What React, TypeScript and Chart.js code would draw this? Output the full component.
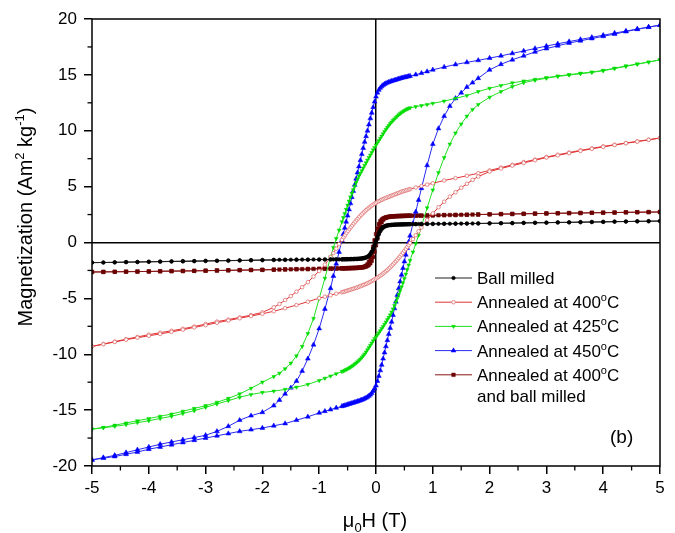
import React, { useEffect, useRef } from 'react';
import { Chart, registerables } from 'chart.js';
import { drawPoint } from 'chart.js/helpers';

Chart.register(...registerables);

const FONT = '"Liberation Sans", Arial, sans-serif';

// Field sweep grids (T): descending sweep +5 -> -5, ascending sweep -5 -> +5
const H_DESC = [5, 4.8, 4.6, 4.4, 4.2, 4, 3.8, 3.6, 3.4, 3.2, 3, 2.8, 2.6, 2.4, 2.2, 2, 1.8, 1.6, 1.4, 1.2, 1, 0.9, 0.8, 0.7,
  0.6, 0.575, 0.55, 0.525, 0.5, 0.475, 0.45, 0.425, 0.4, 0.375, 0.35, 0.325, 0.3, 0.275, 0.25, 0.225, 0.2, 0.175, 0.15, 0.125, 0.1, 0.075, 0.05, 0.025, 0,
  -0.025, -0.05, -0.075, -0.1, -0.125, -0.15, -0.175, -0.2, -0.225, -0.25, -0.275, -0.3, -0.325, -0.35, -0.375, -0.4, -0.425, -0.45, -0.475, -0.5, -0.525, -0.55, -0.575, -0.6,
  -0.65, -0.7, -0.75, -0.8, -0.9, -1, -1.1, -1.2, -1.3, -1.4, -1.5, -1.6, -1.7,
  -1.8, -2, -2.2, -2.4, -2.6, -2.8, -3, -3.2, -3.4, -3.6, -3.8, -4, -4.2, -4.4, -4.6, -4.8, -5];

const H_ASC = [-5, -4.8, -4.6, -4.4, -4.2, -4, -3.8, -3.6, -3.4, -3.2, -3, -2.8, -2.6, -2.4, -2.2, -2, -1.8, -1.6, -1.4, -1.2, -1, -0.9, -0.8, -0.7,
  -0.6, -0.575, -0.55, -0.525, -0.5, -0.475, -0.45, -0.425, -0.4, -0.375, -0.35, -0.325, -0.3, -0.275, -0.25, -0.225, -0.2, -0.175, -0.15, -0.125, -0.1, -0.075, -0.05, -0.025, 0,
  0.025, 0.05, 0.075, 0.1, 0.125, 0.15, 0.175, 0.2, 0.225, 0.25, 0.275, 0.3, 0.325, 0.35, 0.375, 0.4, 0.425, 0.45, 0.475, 0.5, 0.525, 0.55, 0.575, 0.6,
  0.65, 0.7, 0.75, 0.8, 0.9, 1, 1.1, 1.2, 1.3, 1.4, 1.5, 1.6, 1.7,
  1.8, 2, 2.2, 2.4, 2.6, 2.8, 3, 3.2, 3.4, 3.6, 3.8, 4, 4.2, 4.4, 4.6, 4.8, 5];

// Ball milled
const BM_DESC = [1.92, 1.91, 1.9, 1.88, 1.87, 1.85, 1.84, 1.83, 1.81, 1.8, 1.78, 1.77, 1.76, 1.74, 1.73, 1.72, 1.71, 1.7, 1.69, 1.68, 1.67, 1.66, 1.66, 1.65,
  1.64, 1.64, 1.63, 1.63, 1.63, 1.62, 1.62, 1.62, 1.61, 1.61, 1.6, 1.6, 1.59, 1.58, 1.57, 1.56, 1.54, 1.51, 1.46, 1.38, 1.26, 1.08, 0.84, 0.53, 0.18,
  -0.18, -0.51, -0.8, -1.02, -1.18, -1.28, -1.35, -1.39, -1.42, -1.44, -1.45, -1.46, -1.47, -1.47, -1.48, -1.48, -1.49, -1.49, -1.49, -1.5, -1.5, -1.5, -1.5, -1.51,
  -1.51, -1.51, -1.51, -1.51, -1.52, -1.52, -1.52, -1.53, -1.53, -1.53, -1.54, -1.54, -1.55,
  -1.55, -1.56, -1.58, -1.6, -1.61, -1.63, -1.64, -1.66, -1.67, -1.69, -1.7, -1.72, -1.74, -1.75, -1.77, -1.79, -1.8];
const BM_ASC = [-1.8, -1.79, -1.78, -1.76, -1.75, -1.73, -1.72, -1.7, -1.69, -1.67, -1.66, -1.64, -1.63, -1.61, -1.6, -1.59, -1.57, -1.56, -1.55, -1.54, -1.53, -1.52, -1.52, -1.51,
  -1.51, -1.5, -1.5, -1.5, -1.49, -1.49, -1.49, -1.48, -1.48, -1.47, -1.47, -1.46, -1.45, -1.44, -1.42, -1.4, -1.37, -1.33, -1.27, -1.18, -1.05, -0.86, -0.62, -0.32, 0.02,
  0.38, 0.72, 0.99, 1.19, 1.32, 1.41, 1.47, 1.51, 1.54, 1.56, 1.57, 1.58, 1.59, 1.6, 1.6, 1.61, 1.61, 1.62, 1.62, 1.62, 1.63, 1.63, 1.63, 1.64,
  1.64, 1.64, 1.65, 1.65, 1.66, 1.66, 1.67, 1.67, 1.68, 1.68, 1.69, 1.69, 1.7,
  1.7, 1.71, 1.72, 1.73, 1.75, 1.76, 1.77, 1.79, 1.8, 1.81, 1.83, 1.84, 1.86, 1.87, 1.89, 1.9, 1.92];

// Annealed at 400 C
const A400_DESC = [9.35, 9.2, 9.05, 8.9, 8.75, 8.6, 8.42, 8.25, 8.05, 7.85, 7.65, 7.42, 7.2, 6.95, 6.7, 6.45, 6.2, 5.97, 5.76, 5.55, 5.3, 5.18, 5.05, 4.92,
  4.78, 4.74, 4.7, 4.66, 4.62, 4.58, 4.54, 4.49, 4.44, 4.39, 4.34, 4.29, 4.24, 4.19, 4.14, 4.09, 4.04, 3.99, 3.94, 3.88, 3.82, 3.76, 3.7, 3.63, 3.55,
  3.47, 3.39, 3.3, 3.2, 3.1, 3.0, 2.89, 2.77, 2.65, 2.52, 2.39, 2.25, 2.1, 1.95, 1.8, 1.64, 1.48, 1.32, 1.15, 0.98, 0.8, 0.62, 0.43, 0.24,
  -0.15, -0.55, -0.95, -1.3, -1.98, -2.55, -3.05, -3.55, -4.0, -4.4, -4.8, -5.15, -5.5,
  -5.8, -6.25, -6.5, -6.7, -6.9, -7.08, -7.3, -7.52, -7.72, -7.9, -8.07, -8.25, -8.45, -8.65, -8.87, -9.08, -9.3];
const A400_ASC = [-9.3, -9.1, -8.9, -8.7, -8.52, -8.35, -8.18, -8.0, -7.8, -7.6, -7.4, -7.18, -6.98, -6.78, -6.58, -6.38, -6.15, -5.88, -5.6, -5.3, -4.98, -4.85, -4.72, -4.58,
  -4.45, -4.42, -4.38, -4.34, -4.3, -4.26, -4.22, -4.18, -4.14, -4.1, -4.06, -4.01, -3.96, -3.91, -3.86, -3.81, -3.76, -3.71, -3.65, -3.59, -3.52, -3.45, -3.38, -3.3, -3.22,
  -3.14, -3.06, -2.97, -2.88, -2.78, -2.68, -2.57, -2.46, -2.34, -2.22, -2.09, -1.96, -1.82, -1.68, -1.54, -1.39, -1.24, -1.08, -0.92, -0.75, -0.58, -0.41, -0.23, -0.05,
  0.3, 0.65, 1.0, 1.35, 2.0, 2.6, 3.15, 3.65, 4.1, 4.5, 4.9, 5.25, 5.6,
  5.9, 6.35, 6.62, 6.88, 7.12, 7.36, 7.6, 7.8, 8.0, 8.2, 8.38, 8.56, 8.72, 8.88, 9.03, 9.18, 9.35];

// Annealed at 425 C
const A425_DESC = [16.35, 16.15, 15.98, 15.8, 15.6, 15.4, 15.25, 15.15, 15.02, 14.9, 14.75, 14.6, 14.45, 14.28, 14.05, 13.8, 13.5, 13.15, 12.9, 12.65, 12.45, 12.35, 12.25, 12.15,
  12.05, 12.0, 11.95, 11.87, 11.8, 11.72, 11.63, 11.53, 11.42, 11.3, 11.18, 11.05, 10.92, 10.78, 10.63, 10.47, 10.3, 10.12, 9.93, 9.73, 9.52, 9.32, 9.12, 8.92, 8.72,
  8.5, 8.28, 8.05, 7.82, 7.6, 7.37, 7.13, 6.9, 6.66, 6.42, 6.18, 5.95, 5.67, 5.35, 5.03, 4.71, 4.39, 4.07, 3.7, 3.33, 2.96, 2.59, 2.22, 1.85,
  1.1, 0.35, -0.45, -1.3, -3.2, -5.0, -6.8, -8.15, -9.3, -10.15, -10.8, -11.3, -11.7,
  -12.0, -12.5, -13.05, -13.55, -13.95, -14.3, -14.6, -14.85, -15.1, -15.35, -15.55, -15.75, -15.95, -16.15, -16.35, -16.55, -16.7];
const A425_ASC = [-16.7, -16.58, -16.45, -16.3, -16.12, -15.95, -15.75, -15.55, -15.3, -15.05, -14.75, -14.45, -14.15, -13.85, -13.6, -13.42, -13.3, -13.15, -12.95, -12.7, -12.35, -12.15, -11.95, -11.75,
  -11.55, -11.5, -11.44, -11.38, -11.31, -11.24, -11.16, -11.08, -10.99, -10.89, -10.79, -10.68, -10.56, -10.43, -10.29, -10.14, -9.98, -9.8, -9.6, -9.4, -9.2, -9.0, -8.8, -8.6, -8.45,
  -8.27, -8.09, -7.9, -7.71, -7.52, -7.32, -7.12, -6.91, -6.7, -6.48, -6.22, -5.95, -5.65, -5.33, -5.0, -4.66, -4.32, -3.97, -3.6, -3.22, -2.83, -2.43, -2.02, -1.6,
  -0.85, -0.1, 0.65, 1.45, 3.1, 4.7, 6.25, 7.6, 8.8, 9.8, 10.6, 11.3, 11.9,
  12.35, 13.0, 13.5, 13.95, 14.3, 14.52, 14.7, 14.86, 14.98, 15.1, 15.22, 15.37, 15.56, 15.76, 15.95, 16.14, 16.35];

// Annealed at 450 C
const A450_DESC = [19.45, 19.28, 19.1, 18.92, 18.74, 18.55, 18.36, 18.17, 17.98, 17.78, 17.58, 17.36, 17.14, 16.92, 16.7, 16.5, 16.3, 16.12, 15.93, 15.7, 15.45, 15.3, 15.15, 15.02,
  14.9, 14.87, 14.84, 14.81, 14.78, 14.75, 14.72, 14.68, 14.64, 14.6, 14.56, 14.52, 14.48, 14.44, 14.4, 14.35, 14.3, 14.24, 14.17, 14.08, 13.97, 13.83, 13.65, 13.4, 13.05,
  12.6, 12.1, 11.6, 11.1, 10.55, 10.0, 9.5, 9.0, 8.45, 7.9, 7.35, 6.8, 6.25, 5.7, 5.15, 4.6, 4.05, 3.5, 2.95, 2.4, 1.85, 1.3, 0.75, 0.2,
  -0.85, -1.9, -3.0, -4.1, -5.95, -7.7, -9.15, -10.4, -11.5, -12.4, -13.0, -13.55, -14.1,
  -14.6, -15.2, -15.5, -15.9, -16.45, -16.9, -17.25, -17.45, -17.65, -17.85, -18.05, -18.3, -18.55, -18.8, -19.05, -19.25, -19.45];
const A450_ASC = [-19.45, -19.3, -19.15, -18.95, -18.75, -18.5, -18.3, -18.1, -17.9, -17.7, -17.5, -17.3, -17.1, -16.9, -16.75, -16.6, -16.4, -16.2, -15.9, -15.6, -15.25, -15.1, -14.95, -14.8,
  -14.66, -14.62, -14.58, -14.54, -14.5, -14.46, -14.42, -14.38, -14.34, -14.3, -14.26, -14.22, -14.18, -14.13, -14.08, -14.03, -13.97, -13.9, -13.82, -13.73, -13.62, -13.48, -13.3, -13.08, -12.8,
  -12.4, -11.95, -11.45, -10.95, -10.4, -9.85, -9.3, -8.75, -8.2, -7.65, -7.1, -6.5, -5.9, -5.3, -4.7, -4.1, -3.5, -2.9, -2.3, -1.7, -1.1, -0.5, 0.05, 0.6,
  1.7, 2.75, 3.8, 4.85, 6.9, 8.8, 10.2, 11.3, 12.2, 12.9, 13.4, 13.9, 14.3,
  14.7, 15.45, 15.95, 16.35, 16.7, 17.05, 17.35, 17.6, 17.85, 18.05, 18.25, 18.45, 18.65, 18.87, 19.08, 19.27, 19.45];

// Annealed at 400 C and ball milled
const ABM_DESC = [2.73, 2.72, 2.71, 2.7, 2.68, 2.67, 2.66, 2.64, 2.63, 2.62, 2.6, 2.59, 2.57, 2.56, 2.54, 2.52, 2.5, 2.48, 2.46, 2.45, 2.43, 2.42, 2.41, 2.41,
  2.4, 2.4, 2.39, 2.39, 2.38, 2.38, 2.37, 2.37, 2.36, 2.36, 2.35, 2.34, 2.33, 2.32, 2.31, 2.29, 2.27, 2.24, 2.2, 2.14, 2.05, 1.9, 1.65, 1.25, 0.75,
  0.2, -0.38, -0.92, -1.38, -1.72, -1.95, -2.08, -2.15, -2.19, -2.22, -2.24, -2.25, -2.26, -2.27, -2.27, -2.28, -2.28, -2.29, -2.29, -2.3, -2.3, -2.3, -2.31, -2.31,
  -2.32, -2.32, -2.33, -2.33, -2.34, -2.35, -2.36, -2.37, -2.38, -2.39, -2.4, -2.41, -2.42,
  -2.43, -2.44, -2.46, -2.47, -2.49, -2.5, -2.52, -2.53, -2.55, -2.56, -2.57, -2.59, -2.6, -2.61, -2.62, -2.63, -2.64];
const ABM_ASC = [-2.64, -2.63, -2.62, -2.61, -2.6, -2.59, -2.58, -2.56, -2.55, -2.54, -2.52, -2.51, -2.49, -2.48, -2.46, -2.45, -2.43, -2.41, -2.39, -2.38, -2.36, -2.35, -2.34, -2.33,
  -2.32, -2.32, -2.31, -2.31, -2.3, -2.3, -2.3, -2.29, -2.29, -2.28, -2.28, -2.27, -2.26, -2.25, -2.24, -2.22, -2.19, -2.15, -2.09, -2.0, -1.86, -1.64, -1.3, -0.82, -0.25,
  0.35, 0.92, 1.42, 1.8, 2.03, 2.16, 2.23, 2.27, 2.3, 2.32, 2.33, 2.34, 2.35, 2.36, 2.36, 2.37, 2.37, 2.38, 2.38, 2.39, 2.39, 2.39, 2.4, 2.4,
  2.4, 2.41, 2.41, 2.41, 2.42, 2.43, 2.44, 2.45, 2.46, 2.47, 2.48, 2.49, 2.5,
  2.51, 2.52, 2.54, 2.55, 2.57, 2.58, 2.6, 2.61, 2.63, 2.64, 2.66, 2.67, 2.68, 2.7, 2.71, 2.72, 2.73];

const LABELS = ['Ball milled', 'Annealed at 400°C', 'Annealed at 425°C', 'Annealed at 450°C', 'Annealed at 400°C\nand ball milled'];

const X_TICKS_MINOR = [-4.5, -3.5, -2.5, -1.5, -0.5, 0.5, 1.5, 2.5, 3.5, 4.5];
const Y_TICKS_MINOR = [-17.5, -12.5, -7.5, -2.5, 2.5, 7.5, 12.5, 17.5];

function loop(desc: number[], asc: number[]) {
  const pts: { x: number; y: number }[] = [];
  const n1 = Math.min(H_DESC.length, desc.length);
  for (let i = 0; i < n1; i++) pts.push({ x: H_DESC[i], y: desc[i] });
  const n2 = Math.min(H_ASC.length, asc.length);
  for (let i = 0; i < n2; i++) pts.push({ x: H_ASC[i], y: asc[i] });
  return pts;
}

function drawRich(ctx: CanvasRenderingContext2D, parts: { t: string; s: number; dy: number }[], x: number, y: number, align: 'left' | 'center') {
  let w = 0;
  for (const p of parts) {
    ctx.font = `${p.s}px ${FONT}`;
    w += ctx.measureText(p.t).width;
  }
  let cx = align === 'center' ? x - w / 2 : x;
  ctx.textAlign = 'left';
  ctx.textBaseline = 'alphabetic';
  for (const p of parts) {
    ctx.font = `${p.s}px ${FONT}`;
    ctx.fillText(p.t, cx, y + p.dy);
    cx += ctx.measureText(p.t).width;
  }
}

function degreeParts(line: string, size: number) {
  const idx = line.indexOf('°');
  if (idx < 0) return [{ t: line, s: size, dy: 0 }];
  return [
    { t: line.slice(0, idx), s: size, dy: 0 },
    { t: 'o', s: Math.round(size * 0.62), dy: -7 },
    { t: line.slice(idx + 1), s: size, dy: 0 },
  ];
}

const decorPlugin = {
  id: 'decor',
  afterDraw(chart: any) {
    const { ctx, chartArea, scales } = chart;
    const { left, right, top, bottom } = chartArea;
    const xs = scales.x;
    const ys = scales.y;
    ctx.save();
    ctx.strokeStyle = '#000';
    ctx.lineWidth = 1.5;
    ctx.strokeRect(left, top, right - left, bottom - top);
    ctx.lineWidth = 1.3;
    for (const v of X_TICKS_MINOR) {
      const px = xs.getPixelForValue(v);
      ctx.beginPath();
      ctx.moveTo(px, bottom);
      ctx.lineTo(px, bottom + 4.5);
      ctx.stroke();
    }
    for (const v of Y_TICKS_MINOR) {
      const py = ys.getPixelForValue(v);
      ctx.beginPath();
      ctx.moveTo(left, py);
      ctx.lineTo(left - 4.5, py);
      ctx.stroke();
    }

    // legend
    ctx.fillStyle = '#000';
    let rowY = 278;
    chart.data.datasets.forEach((ds: any, i: number) => {
      ctx.save();
      ctx.strokeStyle = ds.borderColor;
      ctx.lineWidth = 1;
      ctx.beginPath();
      ctx.moveTo(435, rowY);
      ctx.lineTo(472, rowY);
      ctx.stroke();
      ctx.fillStyle = ds.pointBackgroundColor;
      ctx.strokeStyle = ds.pointBorderColor;
      ctx.lineWidth = ds.pointBorderWidth;
      drawPoint(ctx, { pointStyle: ds.pointStyle, rotation: ds.pointRotation || 0, radius: ds.pointRadius, borderWidth: ds.pointBorderWidth }, 453.5, rowY);
      ctx.restore();
      ctx.fillStyle = '#000';
      const lines = LABELS[i].split('\n');
      lines.forEach((ln, j) => {
        drawRich(ctx, degreeParts(ln, 17), 477, rowY + 6 + j * 21, 'left');
      });
      rowY += 24.2;
    });

    // panel label
    drawRich(ctx, [{ t: '(b)', s: 19, dy: 0 }], 610, 443, 'left');

    // x title
    drawRich(ctx, [
      { t: 'μ', s: 20, dy: 0 },
      { t: '0', s: 13, dy: 5 },
      { t: 'H (T)', s: 20, dy: 0 },
    ], 375, 527, 'center');

    // y title
    ctx.save();
    ctx.translate(32, 217);
    ctx.rotate(-Math.PI / 2);
    drawRich(ctx, [
      { t: 'Magnetization (Am', s: 20, dy: 0 },
      { t: '2', s: 13, dy: -8 },
      { t: ' kg', s: 20, dy: 0 },
      { t: '-1', s: 13, dy: -8 },
      { t: ')', s: 20, dy: 0 },
    ], 0, 0, 'center');
    ctx.restore();
    ctx.restore();
  },
};

export default function App() {
  const ref = useRef<HTMLCanvasElement>(null);
  useEffect(() => {
    if (!ref.current) return;
    Chart.defaults.font.family = FONT;
    const zeroGrid = (c: any) => (c.tick && c.tick.value === 0 ? '#000' : 'rgba(0,0,0,0)');
    const chart = new Chart(ref.current, {
      type: 'line',
      data: {
        datasets: [
          {
            label: LABELS[0], data: loop(BM_DESC, BM_ASC),
            borderColor: '#202020', borderWidth: 1,
            pointStyle: 'circle', pointRadius: 1.8, pointBackgroundColor: '#000', pointBorderColor: '#000', pointBorderWidth: 0.5,
          },
          {
            label: LABELS[1], data: loop(A400_DESC, A400_ASC),
            borderColor: '#e03535', borderWidth: 1,
            pointStyle: 'circle', pointRadius: 1.8, pointBackgroundColor: '#ffffff', pointBorderColor: '#e07070', pointBorderWidth: 0.8,
          },
          {
            label: LABELS[2], data: loop(A425_DESC, A425_ASC),
            borderColor: '#22e022', borderWidth: 1,
            pointStyle: 'triangle', pointRotation: 180, pointRadius: 2.2, pointBackgroundColor: '#00dd00', pointBorderColor: '#00dd00', pointBorderWidth: 0.5,
          },
          {
            label: LABELS[3], data: loop(A450_DESC, A450_ASC),
            borderColor: '#2a2af0', borderWidth: 1,
            pointStyle: 'triangle', pointRadius: 2.8, pointBackgroundColor: '#0000ff', pointBorderColor: '#0000ff', pointBorderWidth: 0.5,
          },
          {
            label: LABELS[4], data: loop(ABM_DESC, ABM_ASC),
            borderColor: '#8a1515', borderWidth: 1,
            pointStyle: 'rect', pointRadius: 2.5, pointBackgroundColor: '#6a0000', pointBorderColor: '#6a0000', pointBorderWidth: 0.5,
          },
        ] as any,
      },
      options: {
        animation: false,
        responsive: false,
        events: [],
        layout: { padding: { left: 0, right: 15, top: 19, bottom: 0 } },
        elements: { line: { tension: 0, fill: false } },
        plugins: { legend: { display: false }, tooltip: { enabled: false } },
        scales: {
          x: {
            type: 'linear', min: -5, max: 5,
            afterFit: (s: any) => { s.height = 67; },
            ticks: { stepSize: 1, color: '#000', font: { size: 17, family: FONT }, padding: 4, maxRotation: 0 },
            grid: { color: zeroGrid, lineWidth: 1.5, tickColor: '#000', tickLength: 8, tickWidth: 1.5 },
            border: { display: false },
          },
          y: {
            type: 'linear', min: -20, max: 20,
            afterFit: (s: any) => { s.width = 92; },
            ticks: { stepSize: 5, color: '#000', font: { size: 17, family: FONT }, padding: 7 },
            grid: { color: zeroGrid, lineWidth: 1.5, tickColor: '#000', tickLength: 8, tickWidth: 1.5 },
            border: { display: false },
          },
        },
      } as any,
      plugins: [decorPlugin],
    });
    return () => chart.destroy();
  }, []);
  return (
    <div style={{ position: 'absolute', left: 0, top: 0, width: 675, height: 533, background: '#fff' }}>
      <canvas ref={ref} width={675} height={533} style={{ display: 'block' }} />
    </div>
  );
}
